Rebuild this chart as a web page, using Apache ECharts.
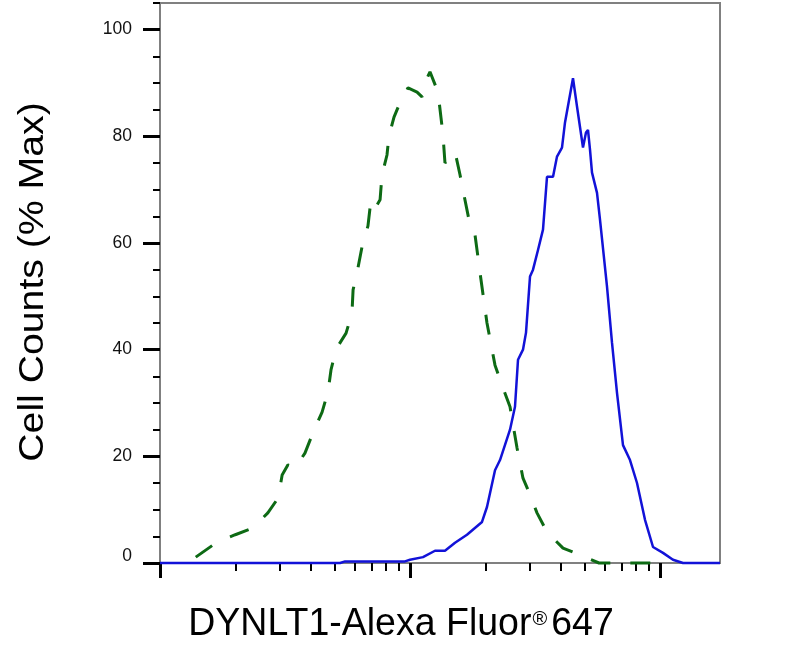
<!DOCTYPE html>
<html>
<head>
<meta charset="utf-8">
<script src="https://cdn.jsdelivr.net/npm/echarts@6/dist/echarts.min.js"></script>
<style>
html,body{margin:0;padding:0;background:#ffffff;}
#chart{width:788px;height:655px;}
</style>
</head>
<body>
<div id="chart"></div>
<script>
// ---- Data ----
// Control (green dashed) histogram: fluorescence intensity and % of max
const controlIntensity = [139, 169, 200, 236, 270, 297, 308, 325, 347, 380, 409, 445, 470, 483, 506, 555, 586, 592, 619, 643, 679, 698, 731, 759, 773, 809, 824, 863, 912, 982, 1067, 1117, 1148, 1202, 1294, 1355, 1380, 1445, 1514, 1585, 1644, 1738, 1820, 1923, 2032, 2188, 2355, 2512, 2679, 2831, 2965, 3221, 3532, 4093, 4786, 5702, 10965];
const controlCounts = [1.1, 3.9, 5.3, 6.6, 9.4, 12.2, 16.5, 18.4, 17.8, 20.6, 24.4, 28.3, 32.1, 36.2, 40.1, 43.1, 46.9, 51.2, 55.3, 59.3, 63.2, 68.1, 66.8, 68.1, 72.8, 76.5, 80.1, 83.6, 86.3, 89.1, 88.3, 87.4, 90.0, 92.1, 88.3, 80.3, 75.0, 75.9, 77.1, 72.8, 69.0, 63.4, 61.5, 53.1, 45.0, 37.1, 32.8, 29.3, 21.6, 15.9, 13.7, 9.4, 5.8, 2.8, 1.5, 0, 0];

// DYNLT1 (blue solid) histogram
const dynlt1Intensity = [100, 525, 550, 955, 1000, 1127, 1259, 1380, 1514, 1690, 1941, 2032, 2188, 2291, 2512, 2630, 2704, 2831, 2911, 3020, 3105, 3251, 3404, 3532, 3733, 3873, 4055, 4169, 4487, 4656, 4920, 5058, 5152, 5248, 5346, 5598, 5754, 6138, 6427, 6730, 7112, 7586, 8091, 8710, 9376, 10280, 11272, 12359, 17378];
const dynlt1Counts = [0, 0, 0.3, 0.3, 0.6, 1.1, 2.3, 2.3, 3.8, 5.3, 7.7, 10.5, 17.4, 19.3, 25.0, 29.3, 38.1, 40.0, 43.2, 53.7, 55.0, 58.7, 62.5, 72.4, 72.4, 76.2, 77.9, 82.6, 90.9, 85.6, 77.9, 80.7, 81.2, 77.5, 73.2, 69.4, 64.4, 51.8, 41.3, 31.9, 22.1, 19.3, 15.0, 8.1, 3.0, 1.9, 0.6, 0, 0];

// Axes
const xRange = [100, 17378];
const xMajorTicks = [100, 1000, 10000];
const xMinorTicks = [200, 300, 400, 500, 600, 700, 800, 900, 2000, 3000, 4000, 5000, 6000, 7000, 8000, 9000];
const yRange = [0, 105];
const yMajorTicks = [0, 20, 40, 60, 80, 100];
const yMinorStep = 5;

// Texts
const xTitleMain = 'DYNLT1-Alexa Fluor';
const xTitleMark = '®';
const xTitleTail = '647';
const yTitle = 'Cell Counts (% Max)';

// ---- Chart ----
const FONT = '"Liberation Sans", Arial, Helvetica, sans-serif';
const pairs = (xs, ys) => xs.map((x, i) => [x, ys[i]]);

const chart = echarts.init(document.getElementById('chart'), null, {renderer: 'canvas'});
chart.setOption({
  animation: false,
  backgroundColor: '#ffffff',
  grid: {
    left: 160, right: 68, top: 3, bottom: 92,
    show: true, borderColor: '#808080', borderWidth: 2, backgroundColor: 'transparent'
  },
  xAxis: [
    {
      type: 'log', logBase: 10, min: xRange[0], max: xRange[1], position: 'bottom',
      axisLine: {show: true, lineStyle: {color: '#808080', width: 2}},
      axisTick: {show: true, customValues: xMajorTicks, length: 15, lineStyle: {color: '#000000', width: 3}},
      axisLabel: {show: false},
      splitLine: {show: false},
      minorTick: {show: false}
    },
    {
      type: 'log', logBase: 10, min: xRange[0], max: xRange[1], position: 'bottom',
      axisLine: {show: false},
      axisTick: {show: true, customValues: xMinorTicks, length: 8, lineStyle: {color: '#000000', width: 2}},
      axisLabel: {show: false},
      splitLine: {show: false}
    }
  ],
  yAxis: [
    {
      type: 'value', min: yRange[0], max: yRange[1], position: 'left',
      axisLine: {show: true, lineStyle: {color: '#808080', width: 2}},
      axisTick: {show: true, customValues: yMajorTicks, length: 17, lineStyle: {color: '#000000', width: 3}},
      axisLabel: {
        show: true, customValues: yMajorTicks, margin: 28,
        fontSize: 17.5, color: '#111111', fontFamily: FONT,
        formatter: v => (v === 0 ? '{z|0}' : String(v)),
        rich: {z: {fontSize: 17.5, color: '#111111', fontFamily: FONT, padding: [0, 0, 14, 0]}}
      },
      splitLine: {show: false}
    },
    {
      type: 'value', min: yRange[0], max: yRange[1], interval: yMinorStep, position: 'left',
      axisLine: {show: false},
      axisTick: {show: true, length: 7, lineStyle: {color: '#000000', width: 2}},
      axisLabel: {show: false},
      splitLine: {show: false}
    }
  ],
  series: [
    {
      name: 'Control', type: 'line', xAxisIndex: 0, yAxisIndex: 0,
      data: pairs(controlIntensity, controlCounts),
      symbol: 'none', showSymbol: false, clip: false, z: 3,
      lineStyle: {color: '#0d6a14', width: 3, type: [20, 20]}
    },
    {
      name: 'DYNLT1', type: 'line', xAxisIndex: 0, yAxisIndex: 0,
      data: pairs(dynlt1Intensity, dynlt1Counts),
      symbol: 'none', showSymbol: false, clip: false, z: 4,
      lineStyle: {color: '#1212d8', width: 2.5}
    }
  ],
  graphic: [
    {
      type: 'text', x: 401, y: 624, scaleY: 1.05,
      style: {
        text: '{a|' + xTitleMain + '}{s|' + xTitleMark + '}{a|' + xTitleTail + '}',
        align: 'center', verticalAlign: 'middle',
        rich: {
          a: {fontSize: 37.5, fontFamily: FONT, fill: '#000000'},
          s: {fontSize: 20, lineHeight: 20, fontFamily: FONT, fill: '#000000', padding: [0, 4, 9, 1]}
        }
      }
    },
    {
      type: 'text', x: 33, y: 282, rotation: Math.PI / 2, scaleX: 1.12,
      style: {
        text: yTitle, fontSize: 35, fontFamily: FONT, fill: '#000000',
        align: 'center', verticalAlign: 'middle'
      }
    }
  ]
});
</script>
</body>
</html>
